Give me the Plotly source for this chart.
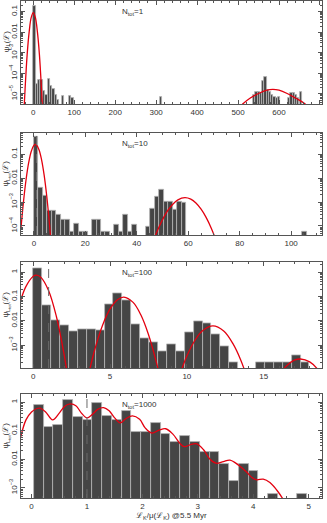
import plotly.graph_objects as go
from plotly.subplots import make_subplots

# ---- data ----
# panel 1, N_tot = 1 (bin centres, heights)
p1_x = [2.9, 8.7, 14.5, 20.3, 26.1, 31.9, 37.7, 43.5, 49.3, 55.1, 60.9, 72.5, 90.0, 95.7,
        312.0, 539.5, 545.0, 550.5, 556.0, 561.5, 567.0, 572.5, 578.0, 583.5, 589.0,
        594.5, 600.0, 625.0, 630.5, 636.0, 641.5, 647.0, 653.0]
p1_y = [0.2, 3e-5, 4.9e-5, 4.5e-5, 1.35e-5, 9e-6, 5.3e-5, 2.5e-5, 1.7e-5, 9e-6, 5e-6, 7.7e-6,
        7.7e-6, 6e-6, 7e-6, 9e-6, 1.3e-5, 1.3e-5, 1.1e-5, 4.3e-5, 6.6e-5, 1.55e-5, 1.3e-5,
        9e-6, 7.4e-6, 6.3e-6, 6.8e-6, 6.3e-6, 1.1e-5, 1.1e-5, 9e-6, 6.3e-6, 1.2e-5]
p1_width = 5.6

# panels 2-4: histogram heights per bin (0 = empty bin)
p2_start, p2_width = 0.0, 1.74
p2_y = [0.53, 0.0041, 0.0019, 4.2e-4, 4.2e-4, 3e-4, 1.8e-4, 1.8e-4, 6e-5, 1.2e-4, 6e-5, 6e-5, 0,
        1.8e-4, 1.8e-4, 6e-5, 6e-5, 0, 1.1e-4, 6e-5, 2.9e-4, 6e-5, 1.1e-4, 0, 0, 9e-5, 5.5e-4,
        0.0017, 0.0033, 0.001, 0.001, 4.6e-4, 0.001, 9.3e-4] + [0] * 26 + [6e-5]

p3_start, p3_width = 0.0, 0.58
p3_y = [1.45, 0.045, 0.011, 0.0064, 0.0036, 0.0046, 0.0044, 0.0039, 0.05, 0.137, 0.069, 0.0073,
        0.0019, 0.0013, 5.5e-4, 0.0011, 5.5e-4, 0.0034, 0.01, 0.008, 0.0027, 9e-4, 2e-4, 0, 0,
        2e-4, 2e-4, 2e-4, 2e-4, 4e-4, 2e-4]

p4_start, p4_width = 0.04, 0.1762
p4_y = [0.8, 0.14, 0.16, 1.2, 0.3, 0.24, 0.92, 0.32, 0.23, 0.51, 0.094, 0.094, 0.19, 0.08,
        0.042, 0.066, 0.042, 0.018, 0.018, 0.007, 0.0017, 0.0067, 0.004, 0, 6e-4, 0, 0, 6e-4]

# red fit curves: x and log10(y)
p1_fits = [
    ([-24, -20, -15, -10, -5, 0, 5, 10, 15, 20, 24],
     [-6.3, -4.75, -3.1, -1.97, -1.28, -1.05, -1.28, -1.97, -3.1, -4.75, -6.3]),
    ([500, 512, 530, 550, 570, 585, 600, 620, 640, 663, 675],
     [-5.75, -5.48, -5.2, -4.98, -4.82, -4.78, -4.82, -4.98, -5.2, -5.48, -5.75]),
]
p2_fits = [
    ([-5, -4, -3, -2, -1, 0, 0.6, 1, 2, 3, 4, 5, 6, 7],
     [-4.08, -2.95, -2.04, -1.35, -0.88, -0.64, -0.6, -0.62, -0.82, -1.24, -1.88, -2.75, -3.84, -5.15]),
    ([46, 48, 50, 52, 54, 56, 58.7, 61, 63, 65, 67, 69, 71],
     [-4.77, -4.2, -3.74, -3.36, -3.09, -2.91, -2.82, -2.88, -3.04, -3.3, -3.65, -4.1, -4.65]),
]
p3_fits = [
    ([-0.9, -0.5, 0, 0.2, 0.5, 1, 1.5, 2, 2.3],
     [-1.33, -0.61, -0.16, -0.12, -0.21, -0.76, -1.81, -3.36, -4.53]),
    ([3.5, 4, 4.5, 5, 5.5, 5.9, 6.5, 7, 7.5, 8, 8.3],
     [-4.48, -3.19, -2.2, -1.51, -1.12, -1.02, -1.24, -1.75, -2.56, -3.67, -4.48]),
    ([9.5, 10, 10.5, 11, 11.7, 12.4, 13, 13.5, 14],
     [-4.29, -3.45, -2.83, -2.42, -2.21, -2.42, -2.94, -3.6, -4.48]),
    ([16, 16.5, 17, 17.4, 18, 18.5, 19],
     [-4.24, -3.85, -3.62, -3.57, -3.69, -3.98, -4.44]),
]
p4_fits = [
    ([-0.2, -0.1, 0.0, 0.1, 0.15, 0.25, 0.38, 0.5, 0.6, 0.7, 0.8, 0.9, 1.0, 1.1, 1.2, 1.3, 1.4,
      1.5, 1.6, 1.7, 1.82, 1.95, 2.05, 2.17, 2.3, 2.42, 2.55, 2.68, 2.76, 2.88, 2.98, 3.1, 3.22,
      3.33, 3.46, 3.58, 3.73, 3.88, 3.97, 4.06, 4.18, 4.3, 4.45, 4.6],
     [-1.25, -0.62, -0.34, -0.22, -0.21, -0.33, -0.62, -0.38, -0.14, -0.06, -0.12, -0.38, -0.55,
      -0.42, -0.24, -0.19, -0.3, -0.55, -0.72, -0.58, -0.48, -0.6, -0.9, -1.08, -0.98, -0.93,
      -1.12, -1.45, -1.56, -1.48, -1.46, -1.66, -2.0, -2.14, -2.08, -2.03, -2.2, -2.45, -2.63,
      -2.72, -2.7, -2.82, -3.15, -3.6]),
]

labels = ["N<sub>tot</sub>=1", "N<sub>tot</sub>=10", "N<sub>tot</sub>=100", "N<sub>tot</sub>=1000"]
ytitles = ["ψ<sub>L</sub>(ℒ)", "ψ<sub>L<sub>tot</sub></sub>(ℒ)", "ψ<sub>L<sub>tot</sub></sub>(ℒ)",
           "ψ<sub>L<sub>tot</sub></sub>(ℒ)"]

BAR = "#454545"
EDGE = "#b5b5b5"
RED = "#e3000f"
AX = "#555555"
FONT = "Liberation Sans"


def bins(start, width, ys):
    xs, hs = [], []
    for k, v in enumerate(ys):
        if v > 0:
            xs.append(start + width * (k + 0.5))
            hs.append(v)
    return xs, hs


fig = make_subplots(rows=4, cols=1)

panels = [
    (p1_x, p1_y, p1_width, p1_fits),
    (*bins(p2_start, p2_width, p2_y), p2_width, p2_fits),
    (*bins(p3_start, p3_width, p3_y), p3_width, p3_fits),
    (*bins(p4_start, p4_width, p4_y), p4_width, p4_fits),
]

for i, (bx, by, bw, fits) in enumerate(panels):
    row = i + 1
    fig.add_trace(go.Bar(x=bx, y=by, width=bw, marker=dict(color=BAR, line=dict(color=EDGE, width=0.8)),
                         showlegend=False), row=row, col=1)
    for fx, fl in fits:
        fig.add_trace(go.Scatter(x=fx, y=[10 ** v for v in fl], mode="lines", line_shape="spline",
                                 line=dict(color=RED, width=1.3), showlegend=False), row=row, col=1)

domains = [[0.7928, 1.0], [0.5292, 0.7350], [0.2616, 0.4742], [0.0, 0.2093]]
xranges = [[-30, 705], [-5, 112], [-0.8, 18.8], [-0.19, 5.24]]
yranges = [[-5.49, -0.48], [-4.375, -0.11], [-3.94, 0.41], [-3.36, 0.29]]
xdticks = [100, 20, 5, 1]
xminor = [20, 5, 1, 0.2]
yticks = [[1e-5, 1e-4, 1e-3, 0.01, 0.1], [1e-4, 1e-3, 0.01, 0.1], [1e-3, 0.01, 0.1, 1], [1e-3, 0.01, 0.1, 1]]
ytext = {1e-5: "10<sup>−5</sup>", 1e-4: "10<sup>−4</sup>", 1e-3: "10<sup>−3</sup>", 0.01: "0.01", 0.1: "0.1", 1: "1"}
yminor = [m * 10.0 ** e for e in range(-6, 1) for m in range(2, 10)]

common = dict(showline=True, linecolor=AX, linewidth=1, mirror="allticks", ticks="inside",
              ticklen=4, tickcolor=AX, showgrid=False, zeroline=False,
              tickfont=dict(size=8, color="#333", family=FONT))

for i in range(4):
    n = "" if i == 0 else str(i + 1)
    fig.layout["xaxis" + n].update(range=xranges[i], dtick=xdticks[i], tick0=0,
                                   minor=dict(ticks="inside", ticklen=2, dtick=xminor[i], tick0=0, tickcolor=AX),
                                   **common)
    fig.layout["yaxis" + n].update(type="log", range=yranges[i], domain=domains[i], tickmode="array",
                                   tickvals=yticks[i], ticktext=[ytext[v] for v in yticks[i]],
                                   tickangle=-90,
                                   minor=dict(ticks="inside", ticklen=2, tickvals=yminor, tickcolor=AX),
                                   **common)
    if i > 0:
        fig.add_vline(x=1, line=dict(color="#6a6a6a", width=1, dash="dash"), row=i + 1, col=1)
    fig.add_annotation(text=labels[i], xref="x" + n + " domain", yref="y" + n + " domain",
                       x=0.33, y=1, xanchor="left", yanchor="top", yshift=-4, showarrow=False,
                       font=dict(size=8, color="#333", family=FONT))
    fig.add_annotation(text=ytitles[i], xref="paper", yref="y" + n + " domain", x=0, y=0.6,
                       xshift=-14, textangle=-90, showarrow=False, xanchor="center", yanchor="middle",
                       font=dict(size=8, color="#333", family=FONT))

fig.add_annotation(text="ℒ<sub>K</sub>/μ(ℒ<sub>K</sub>) @5.5 Myr", xref="paper", yref="paper",
                   x=0.5, y=0, yshift=-18, showarrow=False, yanchor="middle",
                   font=dict(size=8, color="#333", family=FONT))

fig.update_layout(width=327, height=523, margin=dict(l=21, r=5, t=1, b=25),
                  paper_bgcolor="white", plot_bgcolor="white", bargap=0)

# the page's default body margin would shift the figure by 8px
fig.write_html("out.html", config={"displayModeBar": False},
               post_script="document.body.style.margin='0';")
